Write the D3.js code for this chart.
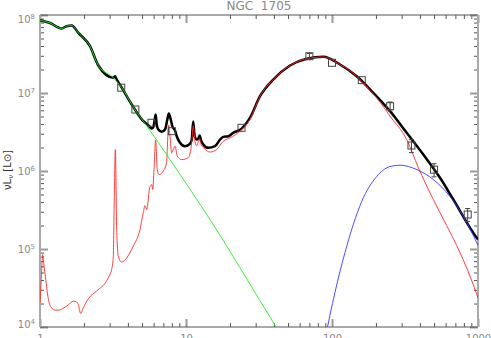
<!DOCTYPE html>
<html><head><meta charset="utf-8">
<script src="https://cdn.jsdelivr.net/npm/d3@7"></script>
<style>body{margin:0;background:#fff} svg{display:block;font-family:"DejaVu Sans",sans-serif}</style>
</head><body>
<svg id="c" width="491" height="338"></svg>
<script>
const chartTitle = "NGC  1705";
const xMajor = [1, 10, 100, 1000];
const xMajorLabels = ["1", "10", "100", "1000"];
const yMajor = [1e4, 1e5, 1e6, 1e7, 1e8];
const yMajorExponents = ["4", "5", "6", "7", "8"];

// stellar component (green)
const stellarSED = [[1.0,8.58e7],[1.17,7.9e7],[1.41,6.71e7],[1.52,7.18e7],[1.65,7.33e7],[1.83,5.91e7],[2.2,3.98e7],[2.51,2.25e7],[3.18,1.57e7],[3.63,1.17e7],[4.25,7.12e6],[4.54,5.85e6],[5.1,4.35e6],[8.19,1.21e6],[14.6,2.39e5],[41.3,1.01e4],[50,5.7e3]];

// total model (black)
const totalSED = [[1.0,8.58e7],[1.17,7.9e7],[1.41,6.71e7],[1.52,7.18e7],[1.65,7.33e7],[1.83,5.91e7],[2.2,3.98e7],[2.51,2.25e7],[3.18,1.57e7],[3.265,1.64e7],[3.342,1.51e7],[3.63,1.17e7],[4.25,7.12e6],[4.54,5.85e6],[5.1,4.35e6],[5.52,3.85e6],[5.67,3.64e6],[5.82,3.5e6],[5.97,3.65e6],[6.08,4.3e6],[6.2,5.3e6],[6.3,3.95e6],[6.46,3.4e6],[6.82,3.18e6],[7.18,3.4e6],[7.45,4.58e6],[7.62,5.46e6],[7.86,4.58e6],[8.06,3.75e6],[8.41,3.3e6],[8.64,2.79e6],[9.1,2.3e6],[9.84,2.08e6],[10.53,2.19e6],[10.94,2.5e6],[11.2,4.3e6],[11.47,2.79e6],[11.84,2.53e6],[12.14,2.6e6],[12.4,2.85e6],[12.7,2.45e6],[13.14,2.19e6],[14.21,1.98e6],[15.8,2.08e6],[17.1,2.53e6],[18.01,2.74e6],[19.49,2.79e6],[21.09,3.09e6],[24.07,3.5e6],[27.44,4.8e6],[32.13,9.1e6],[39.63,1.49e7],[51.57,2.25e7],[67.1,2.75e7],[87.2,2.91e7],[113.4,2.32e7],[147.6,1.64e7],[191.8,1.006e7],[249.7,5.85e6],[324.9,3.09e6],[421.9,1.63e6],[549.3,8.18e5],[677.5,4.31e5],[928.6,1.61e5],[1000,1.32e5]];

// warm dust + PAH model (red)
const dustSED = [[1.0,2.04e4],[1.02,4.0e4],[1.043,8.5e4],[1.06,6.5e4],[1.082,4.85e4],[1.14,2.3e4],[1.2,1.76e4],[1.267,1.65e4],[1.35,1.65e4],[1.444,1.74e4],[1.555,1.9e4],[1.691,2.14e4],[1.765,2.12e4],[1.83,1.94e4],[1.9,1.49e4],[1.98,1.76e4],[2.142,2.3e4],[2.446,2.9e4],[2.86,3.9e4],[3.02,4.8e4],[3.098,5.46e4],[3.178,8.0e4],[3.228,4.7e5],[3.281,1.88e6],[3.352,1.8e5],[3.438,8.1e4],[3.628,6.8e4],[3.925,7.7e4],[4.355,1.09e5],[4.841,1.78e5],[5.099,2.92e5],[5.239,3.6e5],[5.381,3.2e5],[5.668,6.38e5],[5.822,6.7e5],[5.914,5.8e5],[6.036,1.04e6],[6.2,2.5e6],[6.358,1.04e6],[6.562,9.0e5],[6.99,1.0e6],[7.375,1.3e6],[7.45,2.0e6],[7.6,3.9e6],[7.77,2.8e6],[7.98,1.71e6],[8.2,1.9e6],[8.41,2.08e6],[8.72,1.55e6],[9.34,1.4e6],[10.37,1.48e6],[10.94,2.3e6],[11.22,3.8e6],[11.52,2.4e6],[11.84,2.1e6],[12.4,2.6e6],[12.7,2.15e6],[13.14,2.0e6],[14.0,1.8e6],[14.6,1.75e6],[16.23,1.89e6],[18.01,2.41e6],[20.02,2.66e6],[23.44,3.24e6],[27.44,4.6e6],[32.13,9.1e6],[39.63,1.49e7],[51.57,2.25e7],[67.1,2.75e7],[87.2,2.9e7],[113.4,2.32e7],[147.6,1.64e7],[172.9,1.2e7],[202.4,8.68e6],[249.7,5.04e6],[324.9,2.53e6],[390,1.109e6],[494,4.31e5],[610,2.0e5],[715,1.109e5],[881.6,4.48e4],[1000,2.37e4]];

// cold dust component (blue)
const coldSED = [[89.5,7.3e3],[93.2,1.0e4],[96.9,1.43e4],[104.8,2.77e4],[113.4,5.15e4],[122.8,9.02e4],[139.9,2.06e5],[159.7,4.06e5],[202.4,8.5e5],[249.7,1.142e6],[292.3,1.187e6],[380.3,1.045e6],[494.1,7.78e5],[643.1,4.71e5],[836.9,2.19e5],[1000,1.109e5]];

// observations
const obsWave = [3.6, 4.5, 5.8, 8.0, 24, 70, 100, 160, 250, 350, 500, 850];
const obsFlux = [1.17e7, 6.14e6, 4.15e6, 3.24e6, 3.58e6, 2.96e7, 2.44e7, 1.46e7, 6.77e6, 2.12e6, 1.04e6, 2.77e5];
const obsErr  = [0, 0, 0, 0, 0, 2.5e6, 0, 0, 9e5, 4e5, 2e5, 5.3e4];

const L = 40, R = 478, T = 15, B = 327;
const x = d3.scaleLog().domain([1, 1000]).range([L, R]);
const y = d3.scaleLog().domain([1e4, 1e8]).range([B, T]);
const svg = d3.select("#c");

svg.append("defs").append("clipPath").attr("id", "clip")
  .append("rect").attr("x", L).attr("y", T).attr("width", R - L).attr("height", B - T);

const isMajor = v => Math.abs(Math.log10(v) - Math.round(Math.log10(v))) < 1e-9;
const xMinor = x.ticks().filter(v => !isMajor(v));
const yMinor = y.ticks().filter(v => !isMajor(v));

function styleAxis(g, color, width) {
  g.select(".domain").remove();
  g.selectAll(".tick line").attr("stroke", color).attr("stroke-width", width);
}
// minor ticks
svg.append("g").attr("transform", `translate(0,${B})`)
  .call(d3.axisBottom(x).tickValues(xMinor).tickSize(-4).tickFormat(""))
  .call(g => styleAxis(g, "#555", 1));
svg.append("g").attr("transform", `translate(0,${T})`)
  .call(d3.axisTop(x).tickValues(xMinor).tickSize(-4).tickFormat(""))
  .call(g => styleAxis(g, "#555", 1));
svg.append("g").attr("transform", `translate(${L},0)`)
  .call(d3.axisLeft(y).tickValues(yMinor).tickSize(-4).tickFormat(""))
  .call(g => styleAxis(g, "#555", 1));
svg.append("g").attr("transform", `translate(${R},0)`)
  .call(d3.axisRight(y).tickValues(yMinor).tickSize(-4).tickFormat(""))
  .call(g => styleAxis(g, "#555", 1));
// major ticks
svg.append("g").attr("transform", `translate(0,${B})`)
  .call(d3.axisBottom(x).tickValues(xMajor).tickSize(-8).tickPadding(8)
        .tickFormat((d, i) => xMajorLabels[i]))
  .call(g => styleAxis(g, "#999", 2))
  .call(g => g.selectAll("text").attr("font-size", 10).attr("fill", "#888")
        .attr("font-family", "DejaVu Sans"));
svg.append("g").attr("transform", `translate(0,${T})`)
  .call(d3.axisTop(x).tickValues(xMajor).tickSize(-8).tickFormat(""))
  .call(g => styleAxis(g, "#999", 2));
const yl = svg.append("g").attr("transform", `translate(${L},0)`)
  .call(d3.axisLeft(y).tickValues(yMajor).tickSize(-8).tickPadding(5).tickFormat(() => ""))
  .call(g => styleAxis(g, "#999", 2));
yl.selectAll(".tick text").each(function(d, i) {
  const t = d3.select(this).attr("font-size", 10).attr("fill", "#888")
    .attr("font-family", "DejaVu Sans");
  const shift = i === yMajor.length - 1 ? 4 : (i === 0 ? -3 : 0);
  t.attr("y", shift);
  t.append("tspan").text("10");
  t.append("tspan").attr("font-size", 7).attr("dy", -3.6).text(yMajorExponents[i]);
});
svg.append("g").attr("transform", `translate(${R},0)`)
  .call(d3.axisRight(y).tickValues(yMajor).tickSize(-8).tickFormat(""))
  .call(g => styleAxis(g, "#999", 2));

// frame
svg.append("line").attr("x1", L).attr("x2", R).attr("y1", T).attr("y2", T).attr("stroke", "#555").attr("stroke-width", 1);
svg.append("line").attr("x1", L).attr("x2", R).attr("y1", B).attr("y2", B).attr("stroke", "#555").attr("stroke-width", 1);
svg.append("line").attr("x1", L).attr("x2", L).attr("y1", T).attr("y2", B).attr("stroke", "#aaa").attr("stroke-width", 2);
svg.append("line").attr("x1", R).attr("x2", R).attr("y1", T).attr("y2", B).attr("stroke", "#aaa").attr("stroke-width", 2);

// curves
const line = d3.line().x(d => x(d[0])).y(d => y(d[1])).curve(d3.curveMonotoneX);
const plot = svg.append("g").attr("clip-path", "url(#clip)");
plot.append("path").datum(totalSED).attr("d", line).attr("fill", "none").attr("stroke", "#000").attr("stroke-width", 2.5).attr("stroke-linejoin", "round");
plot.append("path").datum(dustSED).attr("d", line).attr("fill", "none").attr("stroke", "#ff2a2a").attr("stroke-width", 0.9);
plot.append("path").datum(stellarSED).attr("d", line).attr("fill", "none").attr("stroke", "#22ee22").attr("stroke-width", 0.9);
plot.append("path").datum(coldSED).attr("d", line).attr("fill", "none").attr("stroke", "#3838ff").attr("stroke-width", 0.9);

// observations
const obs = svg.append("g");
obsWave.forEach((w, i) => {
  const cx = x(w), cy = y(obsFlux[i]);
  if (obsErr[i] > 0) {
    const y1 = y(obsFlux[i] + obsErr[i]), y2 = y(obsFlux[i] - obsErr[i]);
    obs.append("line").attr("x1", cx).attr("x2", cx).attr("y1", y1).attr("y2", y2).attr("stroke", "#444");
    obs.append("line").attr("x1", cx - 2.5).attr("x2", cx + 2.5).attr("y1", y1).attr("y2", y1).attr("stroke", "#444");
    obs.append("line").attr("x1", cx - 2.5).attr("x2", cx + 2.5).attr("y1", y2).attr("y2", y2).attr("stroke", "#444");
  }
  obs.append("rect").attr("x", cx - 3.5).attr("y", cy - 3.5).attr("width", 7).attr("height", 7)
    .attr("fill", "none").attr("stroke", "#444").attr("stroke-width", 1);
});

// title
svg.append("text").attr("x", (L + R) / 2).attr("y", 9.5).attr("text-anchor", "middle")
  .attr("font-size", 12).attr("fill", "#888").style("white-space", "pre").text(chartTitle);

// y axis label
const ylab = svg.append("text").attr("transform", "translate(11,170) rotate(-90)")
  .attr("text-anchor", "middle").attr("font-size", 10).attr("fill", "#333");
ylab.append("tspan").text("νL");
ylab.append("tspan").attr("font-size", 7).attr("dy", 2).text("ν");
ylab.append("tspan").attr("dy", -2).text(" [L");
ylab.append("tspan").text("⊙");
ylab.append("tspan").text("]");
</script>
</body></html>
